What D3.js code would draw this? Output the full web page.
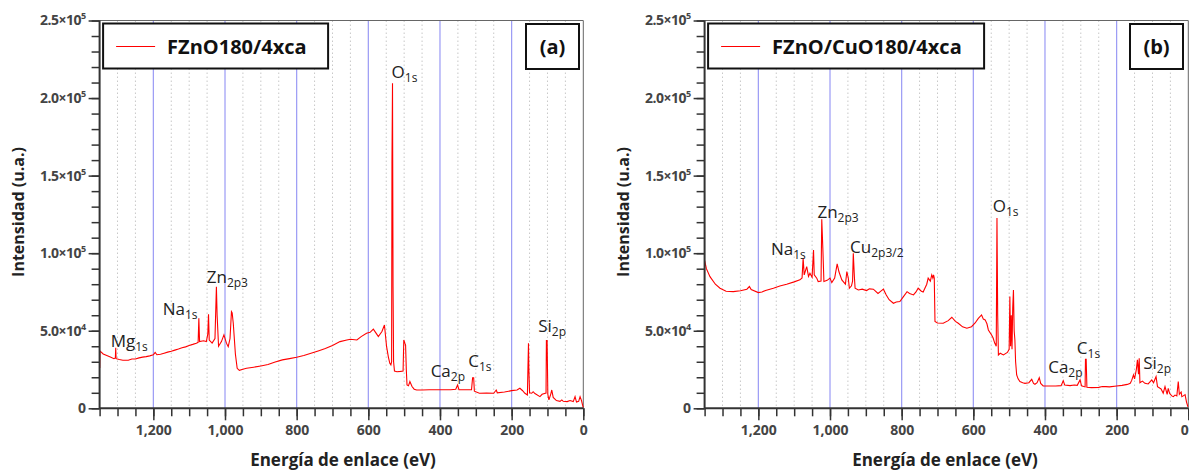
<!DOCTYPE html>
<html>
<head>
<meta charset="utf-8">
<script src="https://cdn.jsdelivr.net/npm/d3@7"></script>
<style>
  body { margin: 0; background: #fff; }
  svg { display: block; font-family: "Open Sans", "DejaVu Sans", sans-serif; }
</style>
</head>
<body>
<div id="chart"></div>
<script>
// binding energy (eV) / intensity (a.u.)
const energyA = [1350, 1349.5, 1349, 1340, 1330, 1320, 1310, 1306, 1305, 1304, 1295, 1285, 1270, 1260, 1250, 1240, 1230, 1220, 1210, 1200, 1195, 1190, 1180, 1170, 1160, 1150, 1140, 1130, 1120, 1110, 1100, 1090, 1080, 1075, 1073, 1071, 1060, 1052, 1048, 1046, 1044, 1036, 1028, 1024, 1022, 1018, 1010, 1003, 996, 991, 986, 982, 980, 977, 971, 966, 960, 950, 940, 920, 900, 880, 860, 840, 820, 800, 780, 760, 740, 720, 700, 679, 660, 650, 632, 620, 605, 595, 586, 577, 572, 562, 555, 549, 544, 540, 537, 535, 534, 532.5, 531, 529.5, 527, 520, 510, 503, 501, 498, 496, 494, 492, 488, 484, 478, 472, 465, 450, 430, 410, 390, 370, 356, 351, 347, 330, 312, 309, 306, 304, 290, 270, 250, 243, 240, 220, 200, 185, 177, 170, 163, 156, 154.5, 153, 152, 150, 144, 140, 135, 121, 115, 104, 103, 101, 99, 96, 91, 88, 84, 75, 65, 60, 56, 45, 37, 28, 23, 19, 13, 9, 5, 2, 0];
const intensityA = [36500, 26000, 37000, 35000, 34000, 33000, 32000, 32500, 39000, 32000, 31500, 31000, 31000, 31800, 31800, 32500, 33000, 33300, 33800, 34500, 36000, 34500, 34800, 35500, 36200, 36800, 37500, 38200, 39000, 39600, 40500, 41200, 42000, 42500, 58000, 43000, 43500, 43000, 48000, 60600, 44000, 42000, 45000, 78400, 60000, 40000, 43000, 47300, 42000, 39700, 45000, 62300, 61500, 55000, 35000, 25800, 24500, 25200, 25800, 26500, 27300, 28200, 29800, 31200, 32000, 32900, 34000, 35500, 37000, 38500, 40500, 43000, 44000, 44500, 44000, 46200, 48400, 49000, 51000, 48000, 46200, 49500, 53700, 39700, 33000, 29000, 28000, 30000, 158000, 209600, 78000, 30000, 24000, 23600, 23800, 24000, 44000, 42000, 40800, 25000, 15000, 14500, 17200, 14000, 12300, 11800, 11800, 12000, 12000, 12000, 12000, 12300, 15000, 12000, 12000, 12000, 19700, 19700, 11000, 9700, 9800, 9700, 11800, 10000, 10500, 11400, 11800, 12900, 11500, 9700, 8600, 26000, 41900, 26000, 10000, 9700, 10700, 9500, 7500, 9000, 9800, 43600, 43600, 9000, 5400, 9000, 11800, 7000, 5000, 4500, 5400, 4500, 4300, 5000, 4300, 7500, 4000, 4500, 7500, 5000, 2000, 500];

const energyB = [1351, 1350, 1345, 1335, 1320, 1307, 1290, 1270, 1250, 1232, 1225, 1220, 1200, 1190, 1180, 1158, 1140, 1121, 1100, 1084, 1078, 1075, 1072, 1065, 1060, 1056, 1050, 1046, 1044, 1037, 1033, 1025, 1023, 1020, 1017, 1008, 1000, 995, 987, 980, 975, 967, 957, 953, 949, 946, 940, 937, 935, 932, 930, 921, 910, 898, 890, 879, 866, 858, 851, 843, 835, 823, 815, 805, 795, 785, 778, 767, 760, 754, 745, 740, 730, 726, 720, 716, 713, 711, 709, 707, 700, 684, 670, 660, 650, 642, 630, 618, 605, 595, 586, 577, 572, 567, 562, 558, 549, 545, 540, 536, 534, 532, 530, 525, 516, 505, 500, 498, 496, 494, 492, 490, 488, 486, 484, 482, 479, 475, 470, 462, 456, 445, 437, 432, 428, 422, 416, 412, 405, 390, 370, 355, 349, 345, 330, 318, 310, 302, 298, 292, 288, 287, 285, 283, 270, 250, 240, 230, 220, 200, 185, 170, 162, 158, 153, 150, 145, 142, 139, 137, 135, 128, 121, 112, 102, 97, 90, 86, 79, 76, 70, 65, 59, 56, 52, 46, 42, 37, 32, 28, 25, 20, 18, 14, 9, 5, 1];
const intensityB = [65500, 95600, 90000, 84900, 80000, 77400, 75500, 75200, 75800, 76800, 78500, 76500, 74600, 75000, 76000, 77400, 78800, 80000, 81500, 82800, 84000, 96800, 86000, 91300, 85000, 87100, 84500, 102100, 86000, 83900, 81700, 82000, 121900, 103200, 81700, 82500, 83900, 81000, 84000, 93100, 88000, 82800, 80000, 88100, 84000, 77400, 79000, 82000, 100000, 85000, 77400, 76300, 76800, 75900, 77000, 76800, 74000, 75500, 76800, 73000, 70000, 67700, 68500, 68800, 72000, 75200, 74000, 73100, 75000, 77400, 75500, 75000, 80000, 83900, 82000, 86000, 84000, 86000, 84000, 56000, 55000, 54800, 56500, 58700, 56000, 54800, 52500, 51600, 52600, 55000, 58000, 60200, 57500, 57000, 54500, 50500, 47300, 45500, 41900, 40000, 122600, 60000, 34400, 35500, 34400, 36000, 38000, 72000, 40000, 60000, 38000, 65000, 76300, 50000, 44000, 30000, 21500, 19000, 17200, 16500, 16100, 16500, 18700, 16000, 15500, 16500, 19700, 16000, 14400, 14400, 14400, 14600, 17800, 15000, 14600, 15000, 14800, 18300, 14500, 14000, 13800, 31600, 31600, 13500, 13300, 13500, 14000, 14000, 13800, 14400, 14800, 15400, 16100, 18000, 21500, 19000, 25000, 31200, 22000, 32300, 16500, 17500, 16100, 15700, 18300, 16500, 20400, 14000, 12900, 12500, 9700, 14000, 9000, 12900, 9500, 8000, 7500, 8500, 8000, 17200, 9000, 10500, 7500, 8000, 8800, 4000, 1000];

const seriesNames = ["FZnO180/4xca", "FZnO/CuO180/4xca"];
const panelTags = ["(a)", "(b)"];

// peak labels: [element, subscript, energy at label start, intensity at label baseline]
const peaksA = [["Mg", "1s", 1319, 39700], ["Na", "1s", 1174, 60200], ["Zn", "2p3", 1051, 80600], ["O", "1s", 535, 212900], ["Ca", "2p", 426, 20400], ["C", "1s", 321, 26800], ["Si", "2p", 126, 49400]];
const peaksB = [["Na", "1s", 1165, 98900], ["Zn", "2p3", 1035, 122600], ["Cu", "2p3/2", 944, 100000], ["O", "1s", 546, 126800], ["Ca", "2p", 391, 22600], ["C", "1s", 311, 34800], ["Si", "2p", 126, 25200]];

const yMajor = [0, 50000, 100000, 150000, 200000, 250000];
const yLabels = [["0", ""], ["5.0×10", "4"], ["1.0×10", "5"], ["1.5×10", "5"], ["2.0×10", "5"], ["2.5×10", "5"]];
const xMajor = [1200, 1000, 800, 600, 400, 200, 0];

const width = 1189;
const height = 472;
const plotTop = 20.5;
const plotBottom = 408.3;

const panels = [
  { left: 99.6, right: 583.3, energy: energyA, inten: intensityA, peaks: peaksA, legendW: 225, tagX: 526, titleX: 343 },
  { left: 704.6, right: 1188.3, energy: energyB, inten: intensityB, peaks: peaksB, legendW: 276, tagX: 1130, titleX: 945 }
];

const svg = d3.select('#chart')
  .append('svg')
  .attr('width', width)
  .attr('height', height);

const y = d3.scaleLinear()
  .domain([0, 250000])
  .range([plotBottom, plotTop]);

panels.forEach((p, k) => {
  const x = d3.scaleLinear()
    .domain([1350, 0])
    .range([p.left, p.right]);

  const g = svg.append('g');

  // dotted minor grid, blue major grid
  const minor = d3.range(0, 1351, 50).filter(v => v % 200 !== 0 && v !== 1350);
  g.selectAll('.mgrid').data(minor).enter().append('line')
    .attr('x1', d => x(d)).attr('x2', d => x(d))
    .attr('y1', plotTop).attr('y2', plotBottom)
    .attr('stroke', '#c8c8c8').attr('stroke-dasharray', '1.5,2.5');
  g.selectAll('.bgrid').data(xMajor.filter(v => v > 0)).enter().append('line')
    .attr('x1', d => x(d)).attr('x2', d => x(d))
    .attr('y1', plotTop).attr('y2', plotBottom)
    .attr('stroke', '#9a9af5').attr('stroke-width', 1.2);

  // frame (top / right)
  g.append('path')
    .attr('d', `M${p.left},${plotTop}H${p.right}V${plotBottom}`)
    .attr('fill', 'none').attr('stroke', '#666').attr('stroke-width', 1);

  // spectrum
  const clipId = 'clip' + k;
  svg.append('clipPath').attr('id', clipId).append('rect')
    .attr('x', p.left).attr('y', plotTop).attr('width', p.right - p.left + 1).attr('height', plotBottom - plotTop);
  const pts = p.energy.map((e, i) => [e, p.inten[i]]);
  g.append('path')
    .datum(pts)
    .attr('clip-path', `url(#${clipId})`)
    .attr('fill', 'none')
    .attr('stroke', '#ff0000')
    .attr('stroke-width', 1.1)
    .attr('d', d3.line().x(d => x(d[0])).y(d => y(d[1])));

  // x axis
  const xMinorAxis = d3.axisBottom(x).tickValues(d3.range(0, 1351, 50)).tickSize(8).tickFormat('');
  g.append('g').attr('transform', `translate(0,${plotBottom})`).call(xMinorAxis)
    .call(a => a.select('.domain').remove())
    .selectAll('line').attr('stroke', '#333').attr('stroke-width', 1.5);
  const xAxis = d3.axisBottom(x).tickValues(xMajor).tickSize(12).tickPadding(5).tickFormat(d3.format(','));
  const xa = g.append('g').attr('transform', `translate(0,${plotBottom})`).call(xAxis);
  xa.select('.domain').attr('d', `M${p.left},0H${p.right}`).attr('stroke', '#333').attr('stroke-width', 2);
  xa.selectAll('line').attr('stroke', '#333').attr('stroke-width', 1.5);
  xa.selectAll('text')
    .attr('font-family', '"Open Sans", sans-serif')
    .attr('font-size', 14).attr('font-weight', 'bold').attr('fill', '#444')
    .attr('dx', d => (d === 0 && k === 1) ? -4 : 0);

  // y axis
  const yMinorAxis = d3.axisLeft(y).tickValues(d3.range(0, 250001, 10000)).tickSize(8).tickFormat('');
  g.append('g').attr('transform', `translate(${p.left},0)`).call(yMinorAxis)
    .call(a => a.select('.domain').remove())
    .selectAll('line').attr('stroke', '#333').attr('stroke-width', 1.5);
  const yAxis = d3.axisLeft(y).tickValues(yMajor).tickSize(11).tickPadding(3).tickFormat('');
  const ya = g.append('g').attr('transform', `translate(${p.left},0)`).call(yAxis);
  ya.select('.domain').attr('d', `M0,${plotTop}V${plotBottom}`).attr('stroke', '#333').attr('stroke-width', 2);
  ya.selectAll('line').attr('stroke', '#333').attr('stroke-width', 1.5);
  ya.selectAll('.tick text').each(function (d) {
    const t = d3.select(this)
      .attr('font-family', '"Open Sans", sans-serif')
      .attr('font-size', 14).attr('font-weight', 'bold').attr('fill', '#444')
      .attr('letter-spacing', '-0.5');
    const lab = yLabels[yMajor.indexOf(d)];
    t.text(null);
    t.append('tspan').text(lab[0]);
    if (lab[1]) t.append('tspan').attr('font-size', 9).attr('dy', -6).text(lab[1]);
  });

  // axis titles
  g.append('text')
    .attr('x', p.titleX).attr('y', 466)
    .attr('text-anchor', 'middle')
    .attr('font-size', 17).attr('font-weight', 'bold').attr('fill', '#222')
    .text('Energía de enlace (eV)');
  g.append('text')
    .attr('transform', `translate(${p.left - 76},212) rotate(-90)`)
    .attr('text-anchor', 'middle')
    .attr('font-size', 16).attr('font-weight', 'bold').attr('fill', '#222')
    .text('Intensidad (u.a.)');

  // peak labels
  p.peaks.forEach(pk => {
    const t = g.append('text')
      .attr('x', x(pk[2])).attr('y', y(pk[3]))
      .attr('font-size', 17).attr('fill', '#222');
    t.append('tspan').text(pk[0]);
    t.append('tspan').attr('font-size', 12).attr('dy', 4).text(pk[1]);
  });

  // legend box
  const lx = p.left + 3.5;
  g.append('rect')
    .attr('x', lx).attr('y', 23.5).attr('width', p.legendW).attr('height', 45)
    .attr('fill', '#fff').attr('stroke', '#111').attr('stroke-width', 2);
  g.append('line')
    .attr('x1', lx + 13).attr('x2', lx + 52).attr('y1', 46.5).attr('y2', 46.5)
    .attr('stroke', '#ff0000').attr('stroke-width', 1.2);
  g.append('text')
    .attr('x', lx + 64).attr('y', 54)
    .attr('font-size', 20).attr('font-weight', 'bold').attr('fill', '#111')
    .text(seriesNames[k]);

  // panel tag box
  g.append('rect')
    .attr('x', p.tagX).attr('y', 24).attr('width', 53).attr('height', 45)
    .attr('fill', '#fff').attr('stroke', '#111').attr('stroke-width', 2);
  g.append('text')
    .attr('x', p.tagX + 26.5).attr('y', 54)
    .attr('text-anchor', 'middle')
    .attr('font-size', 20).attr('font-weight', 'bold').attr('fill', '#111')
    .text(panelTags[k]);
});
</script>
</body>
</html>
